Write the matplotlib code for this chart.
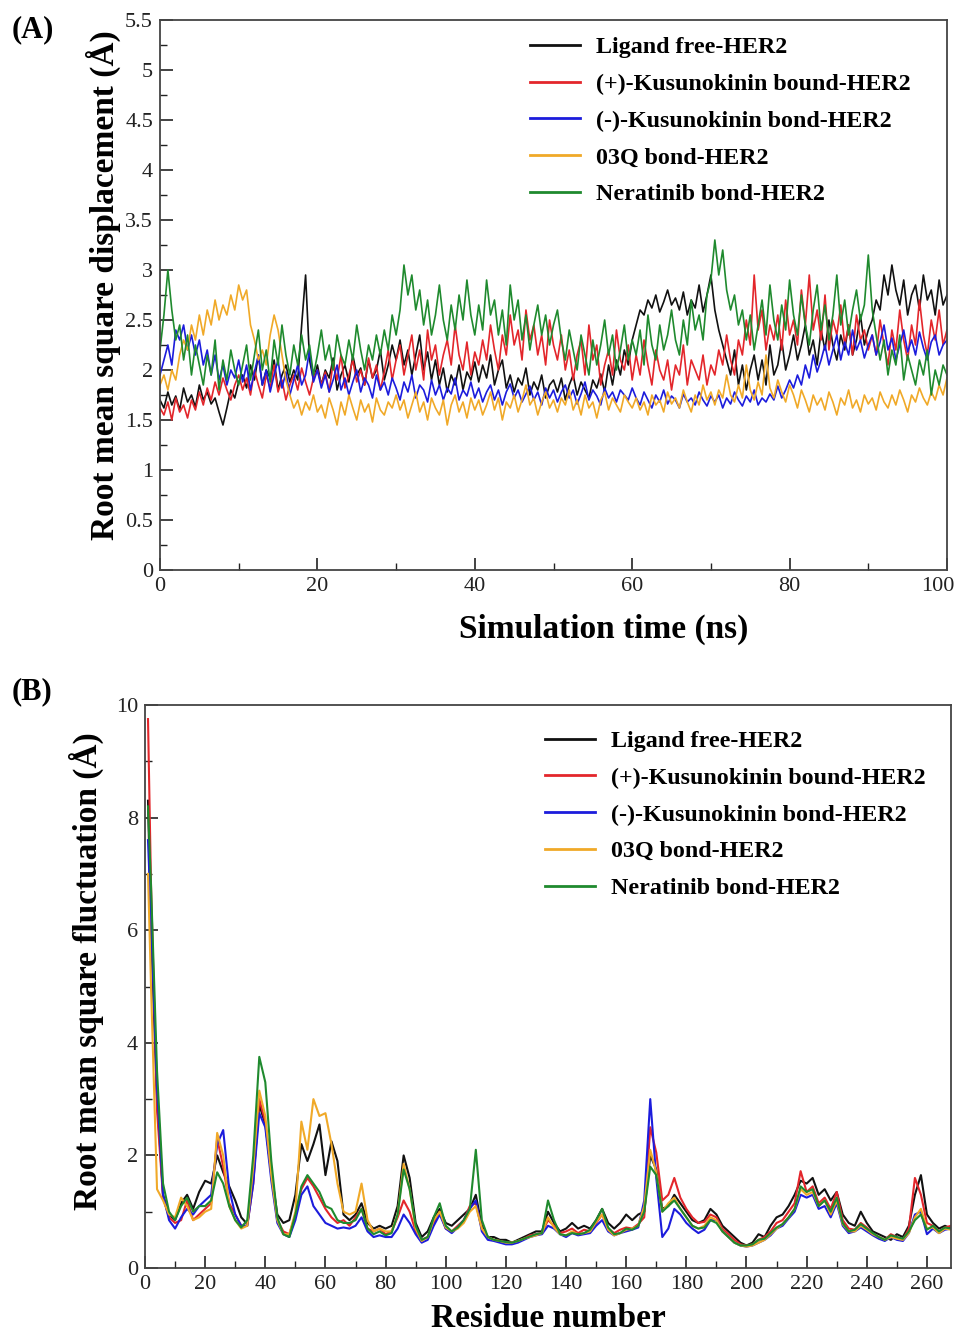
import numpy as np
import matplotlib
matplotlib.use("Agg")
import matplotlib.pyplot as plt
from matplotlib.ticker import MultipleLocator, FuncFormatter
from matplotlib.transforms import ScaledTranslation

plt.rcParams['font.family'] = ['Liberation Serif', 'DejaVu Serif']

labels = ["Ligand free-HER2", "(+)-Kusunokinin bound-HER2", "(-)-Kusunokinin bond-HER2",
          "03Q bond-HER2", "Neratinib bond-HER2"]
colors = ["#111111", "#e3262b", "#1c1cdc", "#f0a928", "#1f8a2e"]

# ---------------- Panel A: RMSD (sampled every 0.5 ns, 0-100 ns) ----------------
rmsd_free = [1.70,1.62,1.78,1.65,1.74,1.60,1.82,1.68,1.75,1.63,1.85,1.70,1.78,1.66,1.72,1.58,1.45,1.62,1.80,1.72,1.88,
             1.95,1.82,2.05,1.90,2.15,1.85,2.00,1.92,2.10,1.80,1.95,2.05,1.88,2.00,1.90,2.45,2.95,2.10,1.90,2.05,
             1.85,2.00,1.92,2.12,1.80,1.95,2.05,1.88,2.15,1.95,2.02,1.85,2.10,1.92,2.00,2.20,1.90,2.05,2.25,2.10,
             2.30,2.05,2.20,1.95,2.15,2.35,2.00,2.18,1.90,2.10,1.85,2.02,1.78,1.95,1.85,2.05,1.80,1.98,1.90,2.08,
             1.88,2.05,1.92,2.15,1.85,2.00,2.10,1.82,1.95,1.78,1.92,1.85,2.02,1.75,1.88,1.80,1.95,1.72,1.85,1.90,
             1.78,1.92,1.70,1.85,1.95,1.75,1.88,1.80,1.72,1.90,1.82,1.96,1.78,2.05,1.85,2.10,1.95,2.20,2.05,2.30,
             2.45,2.60,2.55,2.70,2.62,2.75,2.58,2.68,2.80,2.65,2.72,2.60,2.78,2.55,2.70,2.62,2.85,2.58,2.75,2.95,
             2.60,2.40,2.25,2.10,1.95,2.20,1.85,2.05,1.80,2.00,2.15,1.90,2.10,1.85,2.25,1.95,2.05,2.30,2.00,2.15,
             2.35,2.10,2.25,2.45,2.15,2.30,2.05,2.40,2.20,2.50,2.25,2.10,2.35,2.20,2.45,2.15,2.30,2.55,2.25,2.40,
             2.50,2.70,2.60,2.95,2.75,3.05,2.80,2.65,2.90,2.55,2.75,2.85,2.60,2.95,2.70,2.80,2.55,2.90,2.65,2.75]
rmsd_plus = [1.62,1.55,1.68,1.50,1.72,1.58,1.65,1.52,1.70,1.60,1.78,1.65,1.82,1.70,1.88,1.75,1.92,1.80,1.70,1.85,1.95,
             1.80,1.92,1.75,2.00,1.85,1.72,1.95,1.82,2.05,1.78,1.90,1.70,1.85,1.95,1.80,2.02,1.88,1.75,1.92,2.00,
             1.85,1.98,1.78,2.08,1.90,2.15,1.82,1.95,2.10,1.88,2.00,1.85,2.12,1.92,2.05,1.80,1.98,2.20,1.90,2.10,
             2.25,1.95,2.15,2.35,2.00,2.20,1.90,2.40,2.10,2.25,1.95,2.15,2.30,2.05,2.45,2.15,2.00,2.28,1.95,2.18,
             2.05,2.30,2.10,2.45,2.20,2.00,2.35,2.15,2.55,2.25,2.40,2.10,2.60,2.30,2.45,2.15,2.35,2.05,2.50,2.25,
             2.10,2.35,2.00,2.20,1.90,2.15,2.30,1.95,2.45,2.10,2.25,1.85,2.05,2.20,1.95,2.40,2.10,2.00,2.25,1.90,
             2.15,1.95,2.30,2.05,1.85,2.20,2.00,1.90,2.10,1.80,2.05,1.95,2.25,1.85,2.10,2.00,1.90,2.15,1.85,2.05,
             1.95,2.20,2.05,2.35,2.10,1.95,2.30,2.15,2.50,2.25,2.95,2.40,2.60,2.20,2.45,2.30,2.55,2.20,2.70,2.35,
             2.50,2.25,2.80,2.45,2.95,2.40,2.60,2.30,2.75,2.20,2.50,2.35,2.65,2.25,2.45,2.15,2.55,2.30,2.40,2.20,
             2.35,2.15,2.50,2.25,2.05,2.40,2.20,2.60,2.30,2.10,2.45,2.25,2.70,2.35,2.15,2.50,2.30,2.60,2.25,2.40]
rmsd_minus = [1.95,2.10,2.25,2.05,2.40,2.30,2.45,2.20,2.35,2.15,2.30,2.05,2.20,1.95,2.15,1.90,2.05,1.85,2.00,1.92,2.10,
              1.88,2.05,1.80,1.98,2.15,1.85,2.00,1.78,1.95,2.10,1.82,1.98,1.75,1.90,2.05,1.85,1.95,2.20,1.88,2.00,
              1.82,1.95,1.78,1.90,2.05,1.80,1.92,1.75,1.88,2.00,1.78,1.92,1.85,1.72,1.95,1.80,1.88,1.75,1.92,1.82,
              1.70,1.88,1.78,1.95,1.72,1.85,1.80,1.68,1.90,1.75,1.85,1.70,1.82,1.76,1.92,1.70,1.80,1.74,1.88,1.72,
              1.82,1.68,1.78,1.85,1.70,1.80,1.65,1.78,1.86,1.72,1.80,1.68,1.76,1.84,1.70,1.78,1.65,1.82,1.72,1.80,
              1.68,1.78,1.85,1.72,1.80,1.66,1.76,1.88,1.70,1.80,1.74,1.65,1.82,1.72,1.78,1.68,1.80,1.75,1.70,1.82,
              1.72,1.65,1.78,1.70,1.62,1.75,1.68,1.80,1.66,1.74,1.70,1.62,1.76,1.68,1.72,1.65,1.78,1.70,1.64,1.74,
              1.68,1.75,1.62,1.72,1.66,1.78,1.70,1.64,1.74,1.68,1.80,1.65,1.72,1.68,1.76,1.70,1.84,1.72,1.80,1.90,
              1.82,1.95,1.85,2.05,1.92,2.15,1.98,2.10,2.25,2.05,2.20,2.35,2.10,2.28,2.15,2.40,2.20,2.30,2.12,2.25,
              2.35,2.15,2.28,2.45,2.20,2.32,2.10,2.25,2.40,2.18,2.30,2.15,2.38,2.22,2.10,2.28,2.35,2.15,2.25,2.30]
rmsd_03q = [1.85,1.95,1.80,2.00,1.90,2.15,2.30,2.20,2.45,2.30,2.55,2.35,2.60,2.45,2.70,2.50,2.65,2.55,2.75,2.60,2.85,
            2.70,2.80,2.45,2.30,2.10,2.20,2.05,2.35,2.55,2.40,2.15,1.90,1.75,1.62,1.70,1.55,1.68,1.60,1.75,1.58,
            1.65,1.52,1.72,1.60,1.45,1.68,1.55,1.75,1.62,1.50,1.70,1.58,1.66,1.48,1.72,1.60,1.55,1.68,1.62,1.75,
            1.60,1.70,1.52,1.65,1.78,1.58,1.68,1.50,1.72,1.62,1.55,1.70,1.45,1.65,1.75,1.58,1.68,1.52,1.72,1.60,
            1.70,1.55,1.65,1.78,1.60,1.72,1.50,1.68,1.62,1.75,1.58,1.70,1.85,1.65,1.72,1.55,1.68,1.78,1.62,1.70,
            1.58,1.72,1.65,1.80,1.60,1.70,1.55,1.75,1.62,1.68,1.52,1.70,1.78,1.60,1.72,1.65,1.58,1.75,1.68,1.62,
            1.72,1.60,1.68,1.55,1.75,1.65,1.70,1.58,1.78,1.66,1.72,1.62,1.80,1.68,1.58,1.75,1.65,1.85,1.70,1.78,
            1.65,1.80,1.72,1.95,1.75,1.68,1.85,1.72,2.05,1.80,1.70,1.88,1.75,2.15,1.82,1.72,1.90,1.78,1.68,1.85,
            1.75,1.62,1.80,1.70,1.58,1.75,1.65,1.72,1.60,1.78,1.68,1.55,1.72,1.65,1.80,1.62,1.70,1.58,1.75,1.66,
            1.72,1.60,1.78,1.68,1.62,1.75,1.65,1.80,1.70,1.58,1.75,1.68,1.82,1.72,1.65,1.78,1.70,1.85,1.75,1.92]
rmsd_nera = [2.20,2.55,3.00,2.60,2.30,2.45,2.10,2.35,1.95,2.25,2.05,1.85,2.15,1.95,2.30,1.80,2.10,1.90,2.20,2.00,1.85,
             2.05,2.25,1.90,2.15,2.40,2.00,2.20,1.88,2.30,2.05,2.45,2.15,1.95,2.25,2.05,2.35,2.10,2.25,1.95,2.15,
             2.40,2.10,2.25,2.00,2.35,2.15,2.05,2.30,2.10,2.45,2.20,2.00,2.25,2.10,2.35,2.15,2.40,2.20,2.55,2.35,
             2.60,3.05,2.75,2.95,2.60,2.80,2.45,2.70,2.35,2.55,2.85,2.50,2.30,2.65,2.40,2.75,2.50,2.90,2.55,2.35,
             2.65,2.40,2.90,2.55,2.70,2.35,2.60,2.25,2.85,2.50,2.70,2.30,2.55,2.20,2.45,2.65,2.35,2.55,2.25,2.45,
             2.60,2.30,2.10,2.40,2.20,2.00,2.35,2.15,1.95,2.30,2.05,2.25,2.50,2.15,2.35,2.00,2.20,2.45,2.10,2.30,
             2.15,2.40,2.05,2.55,2.25,2.10,2.45,2.20,2.35,2.60,2.30,2.15,2.50,2.25,2.70,2.40,2.55,2.30,2.75,2.90,
             3.30,2.95,3.20,2.80,2.60,2.75,2.45,2.60,2.30,2.55,2.20,2.45,2.70,2.35,2.85,2.50,2.30,2.65,2.40,2.90,
             2.55,2.35,2.75,2.45,2.25,2.60,2.85,2.40,2.65,2.30,2.55,2.95,2.45,2.70,2.35,2.60,2.80,2.50,2.65,3.15,
             2.60,2.35,2.10,2.30,1.95,2.20,2.05,2.35,1.90,2.15,2.00,1.85,2.10,1.95,2.20,1.75,2.00,1.85,2.05,1.95]

# ---------------- Panel B: RMSF per residue ----------------
residues = [1] + list(range(2, 269, 2))
rmsf_free = [8.3,6.0,3.0,1.3,0.95,0.85,1.15,1.30,1.05,1.35,1.55,1.50,2.00,1.70,1.45,1.20,0.90,0.78,1.60,2.90,
             2.55,1.70,0.95,0.80,0.85,1.30,2.20,1.90,2.20,2.55,1.65,2.25,1.90,0.95,0.85,0.95,1.15,0.80,0.70,0.75,
             0.70,0.75,1.10,2.00,1.60,0.80,0.55,0.65,0.90,1.05,0.80,0.75,0.85,0.95,1.05,1.30,0.75,0.55,0.55,0.50,
             0.50,0.45,0.50,0.55,0.60,0.65,0.65,1.00,0.80,0.65,0.70,0.80,0.70,0.75,0.70,0.85,1.05,0.80,0.70,0.80,
             0.95,0.85,0.95,1.00,2.00,1.75,1.05,1.10,1.30,1.15,1.00,0.85,0.80,0.85,1.05,0.95,0.75,0.65,0.55,0.45,
             0.40,0.45,0.60,0.55,0.75,0.90,0.95,1.10,1.30,1.55,1.50,1.60,1.30,1.40,1.20,1.35,0.95,0.80,0.75,1.00,
             0.80,0.65,0.60,0.55,0.50,0.60,0.55,0.75,1.30,1.65,0.95,0.80,0.70,0.75,0.70]
rmsf_plus = [9.75,6.8,2.8,1.25,0.90,0.80,0.85,1.20,0.85,0.95,1.05,1.15,2.30,1.80,1.15,0.95,0.75,0.75,1.50,3.00,
             2.60,1.65,0.85,0.65,0.60,0.95,1.40,1.60,1.45,1.25,1.05,0.90,0.80,0.85,0.75,0.90,1.05,0.70,0.65,0.70,
             0.60,0.65,0.90,1.20,1.00,0.65,0.50,0.55,0.80,1.00,0.70,0.65,0.75,0.85,1.10,1.15,0.70,0.55,0.50,0.48,
             0.45,0.45,0.48,0.52,0.58,0.60,0.62,0.85,0.75,0.62,0.65,0.70,0.62,0.68,0.65,0.80,0.95,0.70,0.62,0.68,
             0.72,0.70,0.78,0.90,2.50,2.05,1.20,1.30,1.60,1.25,1.05,0.90,0.80,0.82,0.95,0.90,0.70,0.60,0.50,0.42,
             0.40,0.42,0.50,0.55,0.65,0.80,0.85,1.00,1.15,1.72,1.35,1.45,1.15,1.25,1.05,1.35,0.85,0.70,0.68,0.80,
             0.72,0.60,0.55,0.50,0.60,0.55,0.50,0.70,1.60,1.30,0.80,0.75,0.65,0.72,0.75]
rmsf_minus = [7.6,6.2,3.2,1.30,0.85,0.70,0.90,1.05,0.95,1.10,1.20,1.30,2.20,2.45,1.40,0.95,0.75,0.75,1.50,2.75,
              2.50,1.55,0.80,0.60,0.55,0.85,1.30,1.45,1.10,0.95,0.80,0.75,0.70,0.72,0.70,0.75,0.90,0.65,0.55,0.58,
              0.55,0.55,0.70,0.95,0.80,0.60,0.45,0.50,0.75,0.95,0.70,0.62,0.72,0.85,1.05,1.20,0.65,0.50,0.48,0.45,
              0.42,0.42,0.45,0.50,0.55,0.58,0.60,0.75,0.70,0.60,0.55,0.62,0.58,0.60,0.62,0.75,0.85,0.65,0.58,0.62,
              0.65,0.68,0.72,1.20,3.00,1.60,0.55,0.70,1.05,0.95,0.80,0.70,0.62,0.68,0.85,0.85,0.65,0.55,0.45,0.40,
              0.38,0.40,0.45,0.50,0.58,0.70,0.75,0.88,1.00,1.30,1.25,1.30,1.05,1.10,0.90,1.15,0.75,0.62,0.65,0.72,
              0.65,0.58,0.52,0.48,0.55,0.50,0.48,0.62,0.95,1.00,0.60,0.70,0.62,0.68,0.70]
rmsf_03q = [7.0,5.0,1.4,1.20,0.95,0.90,1.25,1.10,0.85,0.90,1.00,1.05,2.40,2.00,1.10,0.85,0.70,0.75,1.80,3.15,
            2.70,1.65,0.85,0.60,0.60,1.00,2.60,2.10,3.00,2.70,2.75,2.20,1.50,1.00,0.95,1.00,1.50,0.85,0.65,0.70,
            0.65,0.65,0.95,1.85,1.40,0.70,0.48,0.55,0.85,1.00,0.72,0.65,0.70,0.80,1.00,1.10,0.70,0.55,0.50,0.48,
            0.45,0.45,0.48,0.52,0.55,0.58,0.62,0.90,0.72,0.60,0.58,0.65,0.60,0.62,0.65,0.82,0.95,0.68,0.58,0.62,
            0.68,0.70,0.75,1.10,2.10,1.70,1.00,1.15,1.25,1.05,0.90,0.75,0.70,0.75,0.90,0.85,0.65,0.55,0.45,0.40,
            0.38,0.40,0.45,0.50,0.60,0.70,0.78,0.90,1.05,1.40,1.30,1.35,1.10,1.20,0.95,1.20,0.78,0.65,0.65,0.75,
            0.68,0.60,0.55,0.50,0.55,0.52,0.50,0.62,0.90,1.05,0.70,0.72,0.62,0.70,0.68]
rmsf_nera = [8.2,6.8,3.5,1.50,1.00,0.85,1.10,1.25,1.00,1.10,1.10,1.20,1.70,1.50,1.10,0.85,0.72,0.85,2.00,3.75,
             3.30,1.90,0.90,0.60,0.55,0.95,1.45,1.65,1.50,1.35,1.10,1.05,0.85,0.80,0.80,0.85,1.05,0.70,0.60,0.65,
             0.58,0.62,0.95,1.75,1.40,0.75,0.50,0.55,0.90,1.15,0.75,0.65,0.72,0.85,1.05,2.10,0.85,0.55,0.50,0.48,
             0.46,0.45,0.48,0.52,0.56,0.60,0.62,1.20,0.85,0.60,0.58,0.62,0.60,0.62,0.68,0.85,1.05,0.72,0.60,0.62,
             0.70,0.68,0.75,1.00,1.80,1.65,1.00,1.10,1.20,1.05,0.90,0.75,0.70,0.72,0.85,0.80,0.65,0.55,0.45,0.40,
             0.40,0.42,0.50,0.52,0.62,0.72,0.78,0.90,1.05,1.45,1.35,1.40,1.10,1.20,1.00,1.25,0.80,0.65,0.68,0.78,
             0.70,0.62,0.55,0.50,0.58,0.55,0.52,0.65,0.85,0.95,0.68,0.75,0.65,0.72,0.70]

rmsd_all = [rmsd_free, rmsd_plus, rmsd_minus, rmsd_03q, rmsd_nera]
rmsf_all = [rmsf_free, rmsf_plus, rmsf_minus, rmsf_03q, rmsf_nera]

W, H = 960, 1334
fig = plt.figure(figsize=(W / 100, H / 100), dpi=100)

axA = fig.add_axes([160 / W, 1 - 570 / H, 787 / W, 550 / H])
axB = fig.add_axes([145 / W, 1 - 1268 / H, 806 / W, 563 / H])

for vals, c, lab in zip(rmsd_all, colors, labels):
    t = np.linspace(0, 100, len(vals))
    axA.plot(t, vals, color=c, lw=1.2, label=lab)

for vals, c, lab in zip(rmsf_all, colors, labels):
    axB.plot(residues[:len(vals)], vals, color=c, lw=1.5, label=lab)

fmt = FuncFormatter(lambda v, p: "%g" % v)
for ax in (axA, axB):
    for s in ax.spines.values():
        s.set_color("#444444")
        s.set_linewidth(1.3)
    ax.tick_params(which="both", direction="in", top=False, right=False,
                   labelsize=16, colors="#222222", pad=5)
    ax.tick_params(which="major", length=9, width=1.2)
    ax.tick_params(which="minor", length=5, width=1.0)
    ax.yaxis.set_major_formatter(fmt)

axA.set_xlim(0, 100)
axA.set_ylim(0, 5.5)
axA.xaxis.set_major_locator(MultipleLocator(20))
axA.xaxis.set_minor_locator(MultipleLocator(10))
axA.yaxis.set_major_locator(MultipleLocator(0.5))
axA.yaxis.set_minor_locator(MultipleLocator(0.25))

axB.set_xlim(0, 268)
axB.set_ylim(0, 10)
axB.xaxis.set_major_locator(MultipleLocator(20))
axB.xaxis.set_minor_locator(MultipleLocator(10))
axB.yaxis.set_major_locator(MultipleLocator(2))
axB.yaxis.set_minor_locator(MultipleLocator(1))

lab_font = dict(fontsize=24, fontweight="bold")
axA.set_xlabel("Simulation time (ns)", **lab_font)
axA.xaxis.set_label_coords(0.564, -0.08)
axA.set_ylabel("Root mean square displacement (Å)", **lab_font)
axA.yaxis.set_label_coords(-0.05, 0.518)

axB.set_xlabel("Residue number", **lab_font)
axB.xaxis.set_label_coords(0.5, -0.062)
axB.set_ylabel("Root mean square fluctuation (Å)", **lab_font)
axB.yaxis.set_label_coords(-0.051, 0.527)

leg_kw = dict(frameon=False, handlelength=2.1, handletextpad=0.65,
              labelspacing=0.62, borderpad=0, borderaxespad=0, loc="upper left",
              prop=dict(weight="bold", size=17.3))
lgA = axA.legend(bbox_to_anchor=(0.47, 0.97), **leg_kw)
lgB = axB.legend(bbox_to_anchor=(0.496, 0.955), **leg_kw)
for lg in (lgA, lgB):
    for h in lg.get_lines():
        h.set_linewidth(2.0)

# keep the last x tick label of panel A inside the figure
fig.canvas.draw()
shift = ScaledTranslation(-9 / 100, 0, fig.dpi_scale_trans)
for tick in axA.xaxis.get_major_ticks():
    if abs(tick.get_loc() - 100) < 1e-6:
        tick.label1.set_transform(tick.label1.get_transform() + shift)

fig.text(12 / W, 1 - 30 / H, "(A)", fontsize=22, fontweight="bold", va="center", ha="left")
fig.text(12 / W, 1 - 692 / H, "(B)", fontsize=22, fontweight="bold", va="center", ha="left")

fig.savefig("out.png", dpi=100)
